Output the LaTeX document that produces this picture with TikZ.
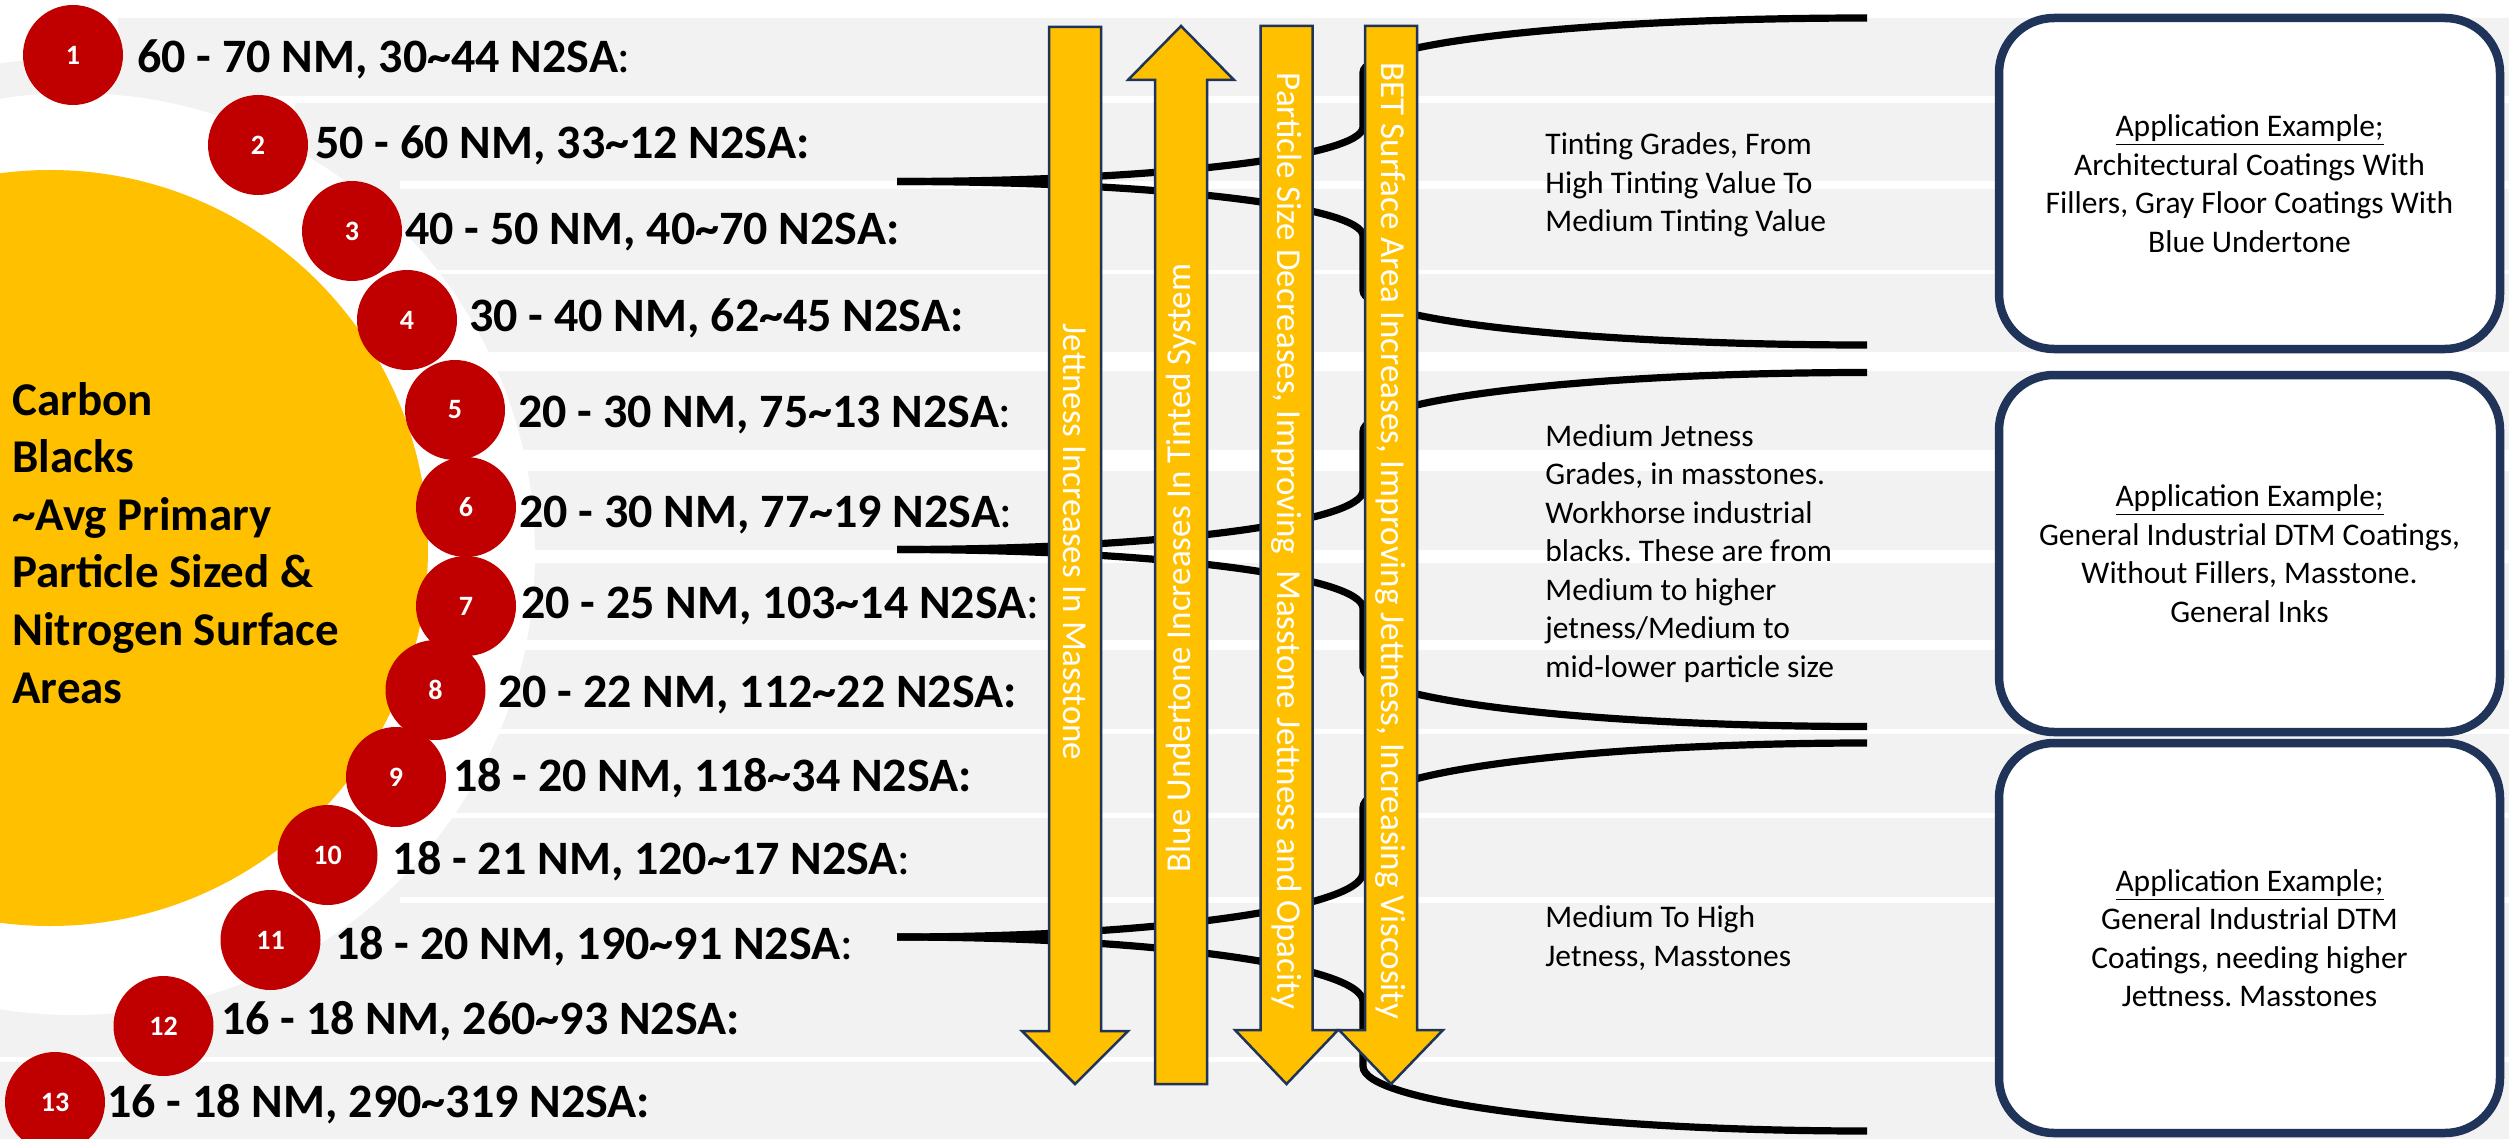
\documentclass[tikz,border=0pt]{standalone}
\usepackage{fontspec}
\setmainfont{Carlito}
\frenchspacing
\definecolor{bandgray}{HTML}{F2F2F2}
\definecolor{cbyellow}{HTML}{FFC000}
\definecolor{cbred}{HTML}{C00000}
\definecolor{cbnavy}{HTML}{1F3458}
\newcommand\fsz[2]{\fontsize{#1}{#2}\selectfont}
\begin{document}
\begin{tikzpicture}[x=0.5pt,y=-0.5pt,
  listtxt/.style={anchor=base west, inner sep=0pt, font=\bfseries\fsz{24}{28}},
  numdot/.style={circle, fill=cbred, minimum size=50pt, inner sep=0pt, text=white, font=\bfseries\fsz{14}{14}},
  desc/.style={anchor=base west, inner sep=0pt, align=left, font=\fsz{15.75}{19.25}},
  appbox/.style={fill=white, draw=cbnavy, line width=4.25pt, rounded corners=27.5pt, minimum width=250.5pt, align=center, inner sep=0pt, font=\fsz{15.75}{19.25}},
  arrtxt/.style={text=white, inner sep=0pt, font=\fsz{17.5}{20}},
  arrowshape/.style={fill=cbyellow, draw=cbnavy, line width=1.25pt, line join=miter},
  bracepath/.style={line width=3.6pt, draw=black}]
\useasboundingbox (0,0) rectangle (2509,1139);
\fill[white] (0,0) rectangle (2509,1139);
% background bands
\foreach \xa/\ya/\yb in {118/18/96, 295/103/181, 250/189/270, 250/274/352, 250/371/450, 250/471/550, 250/563/640, 250/650/729, 250/734/813, 250/818/897, 0/903/1057, 0/1062/1139}
  \fill[bandgray] (\xa,\ya) rectangle (2509,\yb);
\begin{scope}
  \clip (0,0) rectangle (400,1139);
  \fill[bandgray, even odd rule] (74,554) circle[radius=496] (74,554) circle[radius=461];
\end{scope}
\fill[white] (74,554) circle[radius=461];
\fill[cbyellow] (50,548) circle[radius=378];
% multi-line nodes: base anchor = baseline of the last line
\node[anchor=base west, inner sep=0pt, align=left, font=\bfseries\fsz{23.5}{28.8}] (title) at (12,703)
  {Carbon\\Blacks\\\textasciitilde Avg Primary\\Particle Sized \&\\Nitrogen Surface\\Areas};
% braces
\foreach \m/\H/\n in {181.5/163.5/1, 549.5/177/2, 937/194/3} {
  \coordinate (tip\n) at (897,\m);
  \coordinate (ua\n) at (1363,\m-\H/3);
  \coordinate (ub\n) at (1363,\m-2*\H/3);
  \coordinate (top\n) at (1867,\m-\H);
  \coordinate (la\n) at (1363,\m+\H/3);
  \coordinate (lb\n) at (1363,\m+2*\H/3);
  \coordinate (bot\n) at (1867,\m+\H);
  \draw[bracepath] (tip\n) .. controls +(257,0) and +(0,0.184*\H) .. (ua\n) -- (ub\n)
     .. controls +(0,-0.184*\H) and +(-278,0) .. (top\n);
  \draw[bracepath] (tip\n) .. controls +(257,0) and +(0,-0.184*\H) .. (la\n) -- (lb\n)
     .. controls +(0,0.184*\H) and +(-278,0) .. (bot\n);
}
% arrows
\draw[arrowshape] (1049,27) -- (1101,27) -- (1101,1031) -- (1128,1031) -- (1075,1084) -- (1022,1031) -- (1049,1031) -- cycle;
\draw[arrowshape] (1155,1084) -- (1155,80) -- (1128,80) -- (1181,26) -- (1234,80) -- (1207,80) -- (1207,1084) -- cycle;
\draw[arrowshape] (1260.5,26) -- (1312.5,26) -- (1312.5,1030) -- (1338,1030) -- (1286.5,1084) -- (1235,1030) -- (1260.5,1030) -- cycle;
\draw[arrowshape] (1365,26) -- (1417,26) -- (1417,1030) -- (1443,1030) -- (1391,1084) -- (1339,1030) -- (1365,1030) -- cycle;
\node[arrtxt, rotate=-90] (at1) at (1075,542) {Jettness Increases In Masstone};
\node[arrtxt, rotate=90] (at2) at (1181,568) {Blue Undertone Increases In Tinted System};
\node[arrtxt, rotate=-90] (at3) at (1286.5,541) {Particle Size Decreases, Improving\ \ Masstone Jettness and Opacity};
\node[arrtxt, rotate=-90] (at4) at (1391,541) {BET Surface Area Increases, Improving Jettness, Increasing Viscosity};
% numbered dots
\foreach \cx/\cy/\k in {73/55/1, 258/145/2, 352/231/3, 407/320/4, 455/410/5, 466/507/6, 466/606/7, 435.5/690/8, 396/777/9, 327.5/855/10, 270.5/940/11, 163.5/1026/12, 55/1102/13}
  \node[numdot] (c\k) at (\cx,\cy) {\k};
% list texts
\node[listtxt] (t1) at (137,73) {60 - 70 NM, 30\textasciitilde 44 N2SA{\mdseries:}};
\node[listtxt] (t2) at (315,159) {50 - 60 NM, 33\textasciitilde 12 N2SA:};
\node[listtxt] (t3) at (405,245) {40 - 50 NM, 40\textasciitilde 70 N2SA:};
\node[listtxt] (t4) at (469,331) {30 - 40 NM, 62\textasciitilde 45 N2SA:};
\node[listtxt] (t5) at (518,427) {20 - 30 NM, 75\textasciitilde 13 N2SA{\mdseries:}};
\node[listtxt] (t6) at (519,527) {20 - 30 NM, 77\textasciitilde 19 N2SA{\mdseries:}};
\node[listtxt] (t7) at (521,618) {20 - 25 NM, 103\textasciitilde 14 N2SA{\mdseries:}};
\node[listtxt] (t8) at (498,707) {20 - 22 NM, 112\textasciitilde 22 N2SA:};
\node[listtxt] (t9) at (453,791) {18 - 20 NM, 118\textasciitilde 34 N2SA:};
\node[listtxt] (t10) at (392.5,874) {18 - 21 NM, 120\textasciitilde 17 N2SA{\mdseries:}};
\node[listtxt] (t11) at (335,959) {18 - 20 NM, 190\textasciitilde 91 N2SA{\mdseries:}};
\node[listtxt] (t12) at (221,1034) {16 - 18 NM, 260\textasciitilde 93 N2SA:};
\node[listtxt] (t13) at (107,1117) {16 - 18 NM, 290\textasciitilde 319 N2SA:};
% descriptions (anchored at the last line's baseline)
\node[desc] (d1) at (1545,232) {Tinting Grades, From\\High Tinting Value To\\Medium Tinting Value};
\node[desc] (d2) at (1545,677) {Medium Jetness\\Grades, in masstones.\\Workhorse industrial\\blacks. These are from\\Medium to higher\\jetness/Medium to\\mid-lower particle size};
\node[desc] (d3) at (1545,966) {Medium To High\\Jetness, Masstones};
% application boxes
\node[appbox, minimum height=165.5pt] (box1) at (2249.5,183.5)
  {\underline{Application Example;}\\Architectural Coatings With\\Fillers, Gray Floor Coatings With\\Blue Undertone};
\node[appbox, minimum height=178.5pt] (box2) at (2249.5,553.5)
  {\underline{Application Example;}\\General Industrial DTM Coatings,\\Without Fillers, Masstone.\\General Inks};
\node[appbox, minimum height=195pt] (box3) at (2249.5,938)
  {\underline{Application Example;}\\General Industrial DTM\\Coatings, needing higher\\Jettness. Masstones};
\end{tikzpicture}
\end{document}
